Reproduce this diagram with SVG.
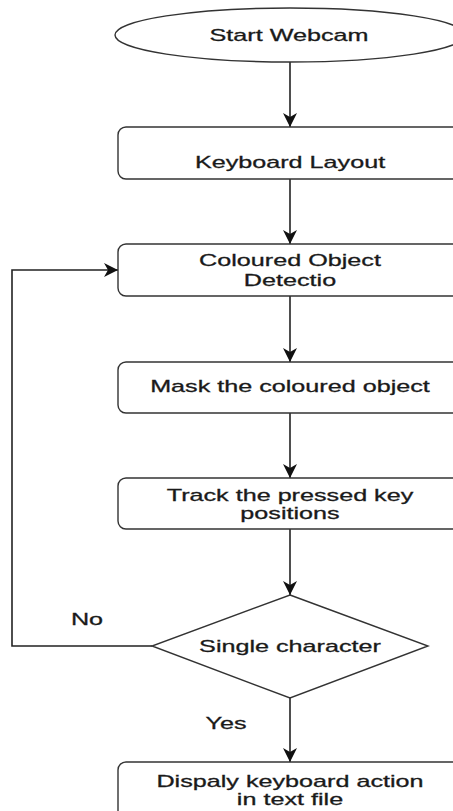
<svg xmlns="http://www.w3.org/2000/svg" width="453" height="811" viewBox="0 0 453 811">
<style>
.shape{fill:#fff;stroke:#333;stroke-width:1.4}
.conn{fill:none;stroke:#222;stroke-width:1.6}
text{font-family:"Liberation Sans",Arial,sans-serif;font-size:17px;fill:#1a1a1a;stroke:#1a1a1a;stroke-width:0.3;text-anchor:middle}
</style>
<defs>
<marker id="arr" markerUnits="userSpaceOnUse" markerWidth="16" markerHeight="16" refX="14" refY="7" orient="auto">
<path d="M0,0 L14,7 L0,14 L4,7 Z" fill="#111"/>
</marker>
</defs>
<rect width="453" height="811" fill="#fff"/>
<g id="connectors">
<line class="conn" x1="290" y1="62" x2="290" y2="127" marker-end="url(#arr)"/>
<line class="conn" x1="290" y1="179" x2="290" y2="244" marker-end="url(#arr)"/>
<line class="conn" x1="290" y1="296" x2="290" y2="362" marker-end="url(#arr)"/>
<line class="conn" x1="290" y1="413" x2="290" y2="478" marker-end="url(#arr)"/>
<line class="conn" x1="290" y1="529" x2="290" y2="595" marker-end="url(#arr)"/>
<line class="conn" x1="290" y1="698" x2="290" y2="762" marker-end="url(#arr)"/>
<polyline class="conn" points="152,646 12,646 12,270 118,270" marker-end="url(#arr)"/>
<text transform="translate(87,625) scale(1.48,1)">No</text>
<text transform="translate(226,729) scale(1.48,1)">Yes</text>
</g>
<g id="start">
<ellipse class="shape" cx="290" cy="35" rx="175" ry="27"/>
<text transform="translate(289,40.5) scale(1.48,1)">Start Webcam</text>
</g>
<g id="keyboard">
<rect class="shape" x="118" y="127" width="344" height="52" rx="8"/>
<text transform="translate(290,168) scale(1.48,1)">Keyboard Layout</text>
</g>
<g id="detect">
<rect class="shape" x="118" y="244" width="344" height="52" rx="8"/>
<text transform="translate(290,266) scale(1.48,1)">Coloured Object</text>
<text transform="translate(290,286) scale(1.48,1)">Detectio</text>
</g>
<g id="mask">
<rect class="shape" x="118" y="362" width="344" height="51" rx="8"/>
<text transform="translate(290,392) scale(1.48,1)">Mask the coloured object</text>
</g>
<g id="track">
<rect class="shape" x="118" y="478" width="344" height="51" rx="8"/>
<text transform="translate(290,501) scale(1.48,1)">Track the pressed key</text>
<text transform="translate(290,519) scale(1.48,1)">positions</text>
</g>
<g id="decision">
<polygon class="shape" points="290,595 428,646 290,698 152,646"/>
<text transform="translate(290,652) scale(1.48,1)">Single character</text>
</g>
<g id="display">
<rect class="shape" x="118" y="762" width="344" height="60" rx="8"/>
<text transform="translate(290,787) scale(1.48,1)">Dispaly keyboard action</text>
<text transform="translate(290,805) scale(1.48,1)">in text file</text>
</g>
</svg>
